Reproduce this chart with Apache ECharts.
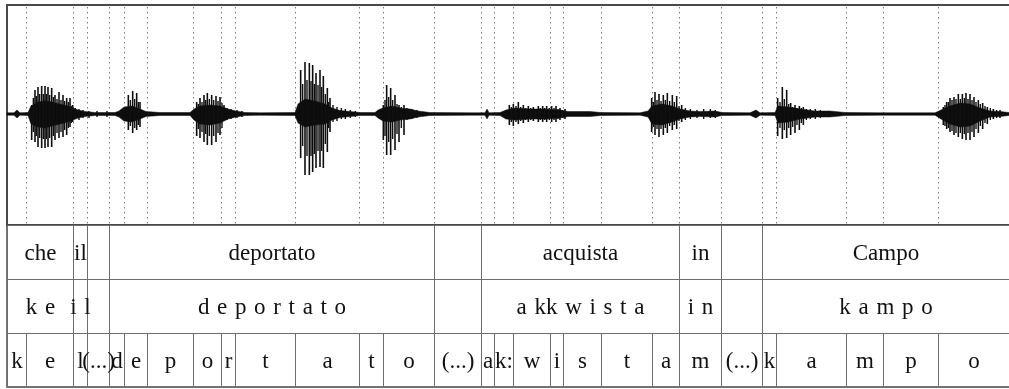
<!DOCTYPE html>
<html>
<head>
<meta charset="utf-8">
<script src="https://cdn.jsdelivr.net/npm/echarts@6/dist/echarts.min.js"></script>
<style>
  html, body { margin: 0; padding: 0; background: #fff; }
  #chart { width: 1009px; height: 389px; }
</style>
</head>
<body>
<div id="chart"></div>
<script>
// time in ms, waveform amplitude in arbitrary units (panel spans -111..109)
const phoneBounds = [0, 57, 198, 240, 306, 351, 420, 558, 642, 684, 864, 1056, 1128, 1281, 1422,
  1461, 1518, 1629, 1668, 1782, 1935, 2016, 2142, 2265, 2307, 2517, 2628, 2793, 3006];
const phones = ["k", "e", "l", "(...)", "d", "e", "p", "o", "r", "t", "a", "t", "o", "(...)",
  "a", "k:", "w", "i", "s", "t", "a", "m", "(...)", "k", "a", "m", "p", "o"];

const wordBounds = [0, 198, 240, 306, 1281, 1422, 2016, 2142, 2265, 3006];
const words = ["che", "il", "", "deportato", "", "acquista", "in", "", "Campo"];
const phonoWords = ["k e", "i l", "", "d e p o r t a t o", "", "a kk w i s t a", "i n", "", "k a m p o"];

// waveform envelope (dense part)
const envT = [0, 21, 30, 39, 63, 72, 93, 114, 135, 159, 183, 198, 213, 234, 264, 324, 336, 351, 375, 399,
  417, 459, 549, 561, 579, 609, 639, 663, 687, 714, 759, 864, 873, 894, 924, 954, 975, 999, 1029, 1059,
  1104, 1113, 1128, 1155, 1179, 1209, 1233, 1269, 1389, 1434, 1440, 1446, 1479, 1497, 1524, 1569, 1614,
  1659, 1683, 1749, 1782, 1899, 1923, 1935, 1965, 1995, 2019, 2049, 2079, 2124, 2145, 2229, 2247, 2259,
  2304, 2313, 2343, 2379, 2424, 2469, 2514, 2619, 2784, 2802, 2829, 2859, 2889, 2919, 2949, 2979, 3006];
const envUp = [1.2, 1.2, 4, 1.2, 1.5, 8, 12, 13, 12, 10, 8, 6, 4, 2.5, 1.5, 1.5, 3, 7, 8, 5,
  2.5, 1.5, 1.5, 5, 8, 9, 8, 5, 3, 1.5, 1.2, 1.5, 10, 15, 13, 10, 6, 3.5, 2.5, 1.5,
  1.5, 4, 6, 8, 6, 5, 3, 1.5, 1.2, 1.2, 5, 1.2, 1.5, 4, 6, 5, 5,
  4, 2.5, 2.5, 1.5, 1.2, 3, 8, 10, 8, 5, 3, 2.5, 3, 1.5, 1.2, 4, 1.2,
  1.5, 8, 7, 5, 3, 3, 1.5, 1.2, 1.2, 4, 8, 11, 10, 6, 3, 2.5, 1.5];
const envDown = [1.2, 1.2, 4, 1.2, 1.5, 10, 13, 14, 12, 10, 8, 6, 4, 2.5, 1.5, 1.5, 3, 7, 8, 5,
  2.5, 1.5, 1.5, 6, 10, 11, 9, 5, 3, 1.5, 1.2, 1.5, 9, 13, 11, 10, 6, 3.5, 2.5, 1.5,
  1.5, 4, 7, 8, 6, 5, 3, 1.5, 1.2, 1.2, 5, 1.2, 1.5, 5, 6, 5, 5,
  4, 2.5, 2.5, 1.5, 1.2, 3, 10, 11, 8, 5, 3, 2.5, 3, 1.5, 1.2, 4, 1.2,
  1.5, 9, 8, 5, 3, 3, 1.5, 1.2, 1.2, 5, 10, 13, 12, 7, 3, 2.5, 1.5];

// glottal pulses (main peaks)
const pulseT = [74, 84, 93, 104, 114, 123, 134, 144, 156, 168, 179, 189, 197,
  364, 377, 389, 399,
  569, 579, 591, 601, 614, 627, 639, 651,
  881, 894, 907, 917, 927, 939, 949, 961, 969,
  1129, 1139, 1151, 1164, 1176, 1191,
  1507, 1519, 1534, 1549, 1564, 1579, 1594, 1607, 1619, 1634, 1647, 1659, 1674,
  1934, 1944, 1956, 1969, 1981, 1996, 2009, 2024,
  2312, 2326, 2339, 2351, 2364, 2377, 2389,
  2809, 2819, 2829, 2841, 2854, 2866, 2877, 2889, 2901, 2914, 2927, 2941, 2959, 2979];
const pulseUp = [9, 24, 27, 28, 28, 27, 26, 19, 22, 19, 16, 16, 9,
  19, 23, 21, 12,
  12, 16, 19, 21, 19, 18, 17, 9,
  44, 52, 51, 49, 41, 44, 38, 26, 16,
  9, 29, 26, 19, 9, 9,
  9, 10, 12, 9, 8, 7, 8, 8, 8, 8, 8, 6, 5,
  16, 22, 20, 19, 21, 19, 18, 9,
  16, 27, 24, 11, 9, 8, 7,
  7, 12, 16, 17, 20, 20, 21, 20, 17, 14, 11, 7, 5, 4];
const pulseDown = [26, 28, 33, 34, 34, 33, 33, 26, 24, 23, 21, 13, 8,
  16, 19, 16, 13,
  22, 24, 28, 31, 31, 28, 21, 7,
  44, 61, 61, 58, 54, 53, 54, 38, 18,
  26, 41, 41, 36, 28, 21,
  11, 12, 10, 9, 8, 7, 8, 8, 8, 8, 8, 6, 5,
  18, 21, 23, 21, 19, 16, 15, 8,
  22, 25, 24, 21, 19, 16, 11,
  11, 15, 18, 21, 23, 25, 26, 26, 23, 19, 15, 10, 5, 4];

// secondary peaks between pulses and in the decaying tails
const minorT = [79, 88, 98, 109, 118, 128, 139, 150, 162, 173, 184, 193, 205, 216, 228, 246, 270, 300,
  370, 383, 394,
  574, 585, 596, 607, 620, 633, 645, 660, 672, 690, 705,
  887, 900, 912, 922, 933, 944, 955, 965, 978, 990, 1003, 1015, 1030, 1045,
  1134, 1145, 1157, 1170, 1183, 1200, 1215, 1230,
  1513, 1527, 1541, 1556, 1571, 1586, 1600, 1613, 1627, 1641, 1653, 1666,
  1939, 1950, 1962, 1975, 1988, 2002, 2016, 2035, 2050, 2070, 2090, 2110, 2125,
  2319, 2332, 2345, 2357, 2370, 2383, 2398, 2410, 2425, 2440,
  2814, 2824, 2835, 2847, 2860, 2872, 2883, 2895, 2907, 2920, 2934, 2950, 2969];
const minorUp = [16, 18, 20, 20, 20, 19, 17, 15, 14, 13, 12, 8, 6, 5, 4, 3, 3, 3,
  14, 15, 12,
  10, 12, 14, 15, 14, 13, 11, 6, 5, 4, 3,
  30, 34, 33, 30, 29, 27, 20, 12, 9, 7, 6, 5, 4, 3,
  14, 17, 14, 10, 7, 6, 5, 4,
  7, 8, 7, 6, 6, 5, 6, 6, 6, 6, 5, 4,
  12, 14, 13, 14, 13, 12, 8, 6, 5, 4, 5, 5, 4,
  12, 15, 10, 7, 6, 6, 5, 5, 5, 4,
  9, 12, 14, 15, 15, 16, 15, 14, 12, 10, 8, 6, 4];
const minorDown = [18, 22, 24, 25, 25, 24, 22, 19, 18, 16, 14, 9, 5, 6, 4, 4, 3, 3,
  12, 14, 11,
  15, 18, 20, 22, 22, 19, 14, 6, 5, 4, 3,
  32, 42, 42, 40, 37, 37, 30, 14, 8, 7, 5, 5, 4, 3,
  22, 28, 25, 20, 14, 6, 5, 4,
  8, 8, 7, 6, 6, 5, 6, 6, 6, 6, 5, 4,
  13, 15, 15, 14, 12, 11, 7, 6, 5, 4, 5, 4, 4,
  14, 16, 14, 13, 11, 9, 6, 5, 5, 4,
  12, 14, 17, 19, 19, 20, 19, 18, 15, 12, 9, 6, 4];

(function () {
  const chart = echarts.init(document.getElementById("chart"));
  const FONT = '23px "Liberation Serif"';
  const AMP_MIN = -111;
  const AMP_MAX = 109;
  const WIDE_SPACE = "\u2004";

  function crisp(v) {
    return Math.round(v) + 0.5;
  }

  // one row per tier cell: [start, end, tierIndex]
  const tierCells = [];
  const tierLabels = [];
  [[wordBounds, words], [wordBounds, phonoWords], [phoneBounds, phones]].forEach(([bounds, labels], tier) => {
    labels.forEach((label, i) => {
      tierCells.push([bounds[i], bounds[i + 1], tier]);
      tierLabels.push(tier === 1 ? label.split(" ").join(WIDE_SPACE) : label);
    });
  });

  const innerBounds = phoneBounds.slice(1, -1).map((t) => [t]);

  function cellBox(api) {
    const p0 = api.coord([api.value(0), api.value(2)]);
    const p1 = api.coord([api.value(1), api.value(2) + 1]);
    return { x0: crisp(p0[0]), x1: crisp(p1[0]), y0: crisp(p0[1]), y1: crisp(p1[1]) };
  }

  function renderCell(params, api) {
    const b = cellBox(api);
    return {
      type: "rect",
      shape: { x: b.x0, y: b.y0, width: b.x1 - b.x0, height: b.y1 - b.y0 },
      style: { fill: null, stroke: "#6e6e6e", lineWidth: 1 }
    };
  }

  function renderLabel(params, api) {
    const b = cellBox(api);
    return {
      type: "text",
      style: {
        text: tierLabels[params.dataIndex],
        x: (b.x0 + b.x1) / 2,
        y: (b.y0 + b.y1) / 2 + 1,
        align: "center",
        verticalAlign: "middle",
        font: FONT,
        fill: "#111"
      }
    };
  }

  function renderDotted(params, api) {
    const top = api.coord([api.value(0), AMP_MAX]);
    const bottom = api.coord([api.value(0), AMP_MIN]);
    const x = crisp(top[0]);
    return {
      type: "line",
      shape: { x1: x, y1: top[1] + 2, x2: x, y2: bottom[1] },
      style: { stroke: "#7a7a7a", lineWidth: 1, lineDash: [1.5, 3.5] }
    };
  }

  function renderEnvelope(params, api) {
    const points = [];
    envT.forEach((t, i) => points.push(api.coord([t, envUp[i]])));
    for (let i = envT.length - 1; i >= 0; i--) {
      points.push(api.coord([envT[i], -envDown[i]]));
    }
    return {
      type: "polygon",
      shape: { points },
      style: { fill: "#0d0d0d", stroke: "#0d0d0d", lineWidth: 0.5 }
    };
  }

  function pulseRenderer(width, color) {
    return function (params, api) {
      const top = api.coord([api.value(0), api.value(1)]);
      const bottom = api.coord([api.value(0), api.value(2)]);
      return {
        type: "line",
        shape: { x1: top[0], y1: top[1], x2: bottom[0], y2: bottom[1] },
        style: { stroke: color, lineWidth: width }
      };
    };
  }

  const hiddenAxis = {
    axisLine: { show: false },
    axisTick: { show: false },
    axisLabel: { show: false },
    splitLine: { show: false }
  };

  chart.setOption({
    animation: false,
    backgroundColor: "#fff",
    grid: [
      { left: 7, width: 1004, top: 5, height: 220, outerBoundsMode: "none", show: true, borderColor: "#4a4a4a", borderWidth: 2 },
      { left: 7, width: 1004, top: 225, height: 162, outerBoundsMode: "none", show: true, borderColor: "#4a4a4a", borderWidth: 1.5 }
    ],
    xAxis: [
      Object.assign({ type: "value", gridIndex: 0, min: 0, max: 3012 }, hiddenAxis),
      Object.assign({ type: "value", gridIndex: 1, min: 0, max: 3012 }, hiddenAxis)
    ],
    yAxis: [
      Object.assign({ type: "value", gridIndex: 0, min: AMP_MIN, max: AMP_MAX }, hiddenAxis),
      Object.assign({ type: "value", gridIndex: 1, min: 0, max: 3, inverse: true }, hiddenAxis)
    ],
    series: [
      {
        type: "custom",
        name: "boundaries",
        xAxisIndex: 0,
        yAxisIndex: 0,
        z: 1,
        renderItem: renderDotted,
        data: innerBounds
      },
      {
        type: "custom",
        name: "envelope",
        xAxisIndex: 0,
        yAxisIndex: 0,
        z: 2,
        clip: false,
        renderItem: renderEnvelope,
        data: [[0, 0]]
      },
      {
        type: "custom",
        name: "minor peaks",
        xAxisIndex: 0,
        yAxisIndex: 0,
        z: 3,
        renderItem: pulseRenderer(1.4, "#111"),
        data: minorT.map((t, i) => [t, minorUp[i], -minorDown[i]])
      },
      {
        type: "custom",
        name: "pulses",
        xAxisIndex: 0,
        yAxisIndex: 0,
        z: 4,
        renderItem: pulseRenderer(1.6, "#0d0d0d"),
        data: pulseT.map((t, i) => [t, pulseUp[i], -pulseDown[i]])
      },
      {
        type: "custom",
        name: "tier cells",
        xAxisIndex: 1,
        yAxisIndex: 1,
        z: 5,
        clip: false,
        renderItem: renderCell,
        data: tierCells
      },
      {
        type: "custom",
        name: "tier labels",
        xAxisIndex: 1,
        yAxisIndex: 1,
        z: 6,
        clip: false,
        renderItem: renderLabel,
        data: tierCells
      }
    ]
  });
})();
</script>
</body>
</html>
